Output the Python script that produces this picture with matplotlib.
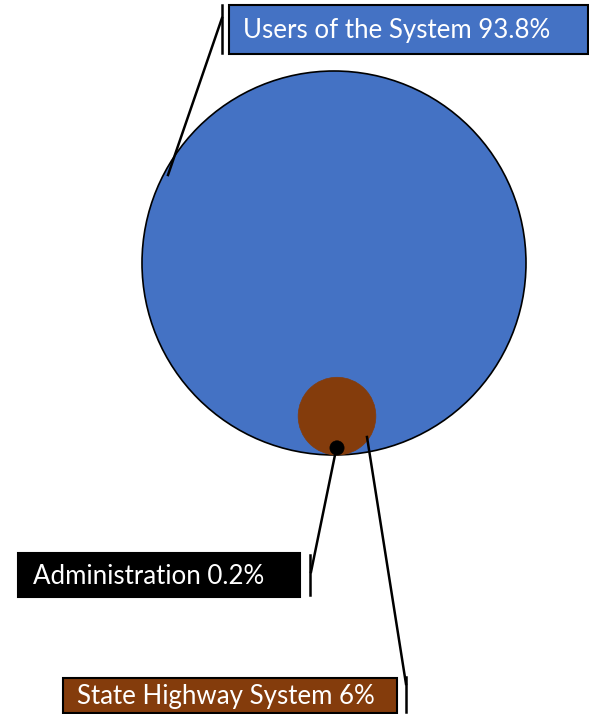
import numpy as np
import matplotlib.pyplot as plt
from matplotlib.patches import Circle, Rectangle

# data
categories = ["Users of the System", "State Highway System", "Administration"]
shares = [93.8, 6, 0.2]
colors = ["#4472C4", "#843C0C", "#000000"]

W, H = 589, 714
fig = plt.figure(figsize=(W / 100, H / 100), dpi=100)
ax = fig.add_axes([0, 0, 1, 1])
ax.set_xlim(0, W)
ax.set_ylim(H, 0)
ax.axis("off")

R_MAX = 192
BASE_Y = 455
radii = []
for i, v in enumerate(shares):
    r = R_MAX * np.sqrt(v / max(shares))
    if i > 0:
        r *= 0.8  # nested bubbles drawn a bit smaller
    radii.append(r)

centers_x = [334, 337, 337]
for i in range(len(shares)):
    cy = BASE_Y - radii[i]
    ec = "black" if i == 0 else colors[i]
    lw = 1.2 if i == 0 else 0.5
    ax.add_patch(Circle((centers_x[i], cy), radii[i], facecolor=colors[i],
                        edgecolor=ec, linewidth=lw, zorder=2 + i))

plt.rcParams['font.family'] = ['Lato', 'DejaVu Sans']
FS = 18.6

# label boxes: (x0, y0, x1, y1), text x
boxes = [(229, 5, 588, 54, 243),
         (63, 678, 397, 713, 77),
         (18, 553, 300, 597, 33)]
for i, (x0, y0, x1, y1, tx) in enumerate(boxes):
    ax.add_patch(Rectangle((x0, y0), x1 - x0, y1 - y0, facecolor=colors[i],
                           edgecolor="black", linewidth=1.5, zorder=5))
    ax.text(tx, (y0 + y1) / 2 + 1, f"{categories[i]} {shares[i]:g}%", color="white",
            fontsize=FS, va="center", ha="left", zorder=6)

# leader lines
lk = dict(color="black", linewidth=1.8, zorder=7)
ax.plot([222, 222], [5, 53], **lk)
ax.plot([222, 168], [18, 175], **lk)
ax.plot([406, 406], [677, 712], **lk)
ax.plot([367, 406], [437, 684], **lk)
ax.plot([310, 310], [555, 595], **lk)
ax.plot([336, 311], [450, 572], **lk)

fig.savefig("out.png", dpi=100)
